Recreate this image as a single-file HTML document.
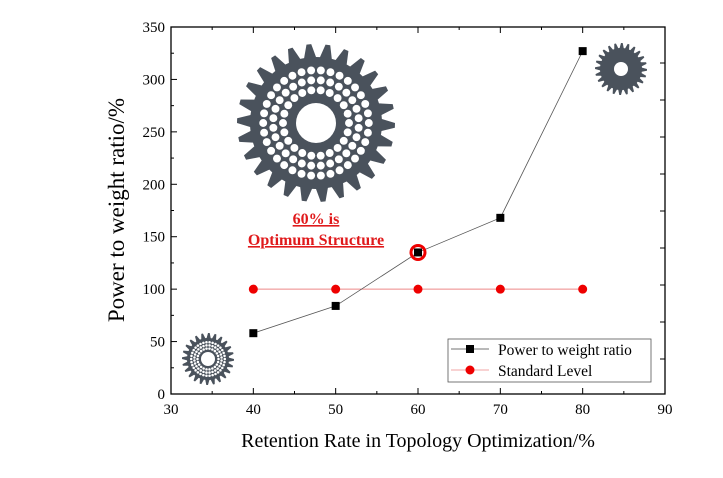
<!DOCTYPE html>
<html><head><meta charset="utf-8"><style>
body{margin:0;background:#fff;}
svg text{font-family:"Liberation Serif",serif;}
</style></head><body>
<svg width="723" height="473" viewBox="0 0 723 473" xmlns="http://www.w3.org/2000/svg">
<g id="gears"></g>
<g id="axes"></g>
<g id="marks"></g>
<text x="316" y="224" text-anchor="middle" font-size="16" font-weight="bold" fill="#e0191b" text-decoration="underline">60% is</text>
<text x="316" y="245" text-anchor="middle" font-size="16" font-weight="bold" fill="#e0191b" text-decoration="underline">Optimum Structure</text>
<text x="418" y="447" text-anchor="middle" font-size="20" fill="#000">Retention Rate in Topology Optimization/%</text>
<text transform="translate(124,210) rotate(-90)" text-anchor="middle" font-size="23" fill="#000">Power to weight ratio/%</text>
<g>
<rect x="448" y="339" width="203" height="43" fill="#fff" stroke="#555" stroke-width="0.8"/>
<line x1="451" y1="349" x2="489" y2="349" stroke="#444" stroke-width="0.8"/>
<rect x="466" y="345" width="8" height="8" fill="#000"/>
<text x="498" y="355" font-size="15.5">Power to weight ratio</text>
<line x1="451" y1="370" x2="489" y2="370" stroke="#e88" stroke-width="0.8"/>
<circle cx="470" cy="370" r="4.5" fill="#e00"/>
<text x="498" y="376" font-size="15.5">Standard Level</text>
</g>
</svg>
<script>
const xCats=[40,50,60,70,80];
const ratioVals=[58,84,135,168,327];
const stdVals=[100,100,100,100,100];
const xTicks=[30,40,50,60,70,80,90];
const yTicks=[0,50,100,150,200,250,300,350];
const NS="http://www.w3.org/2000/svg";
const L=171,R=665,T=27,B=394;
const xs=v=>L+(v-30)/60*(R-L);
const ys=v=>B-v/350*(B-T);
function mk(tag,attrs,parent){const e=document.createElementNS(NS,tag);for(const k in attrs)e.setAttribute(k,attrs[k]);parent.appendChild(e);return e;}
const ax=document.getElementById('axes');
const box=mk('rect',{x:L,y:T,width:R-L,height:B-T,fill:'none',stroke:'#000','stroke-width':1.3},ax);


xTicks.forEach(t=>{
 mk('line',{x1:xs(t),y1:B,x2:xs(t),y2:B-6,stroke:'#000'},ax);
 mk('line',{x1:xs(t),y1:T,x2:xs(t),y2:T+6,stroke:'#000'},ax);
 const tx=mk('text',{x:xs(t),y:B+20,'text-anchor':'middle','font-size':15},ax);tx.textContent=t;
 
 
});
for(let t=35;t<90;t+=10){mk('line',{x1:xs(t),y1:B,x2:xs(t),y2:B-3,stroke:'#000'},ax);mk('line',{x1:xs(t),y1:T,x2:xs(t),y2:T+3,stroke:'#000'},ax);}
yTicks.forEach(t=>{
 mk('line',{x1:L,y1:ys(t),x2:L+6,y2:ys(t),stroke:'#000'},ax);
 const tx=mk('text',{x:L-6,y:ys(t)+5,'text-anchor':'end','font-size':15},ax);tx.textContent=t;
 
 
});
for(let t=25;t<350;t+=50)mk('line',{x1:L,y1:ys(t),x2:L+3,y2:ys(t),stroke:'#000'},ax);
for(let y=63;y<390;y+=37)mk('line',{x1:R,y1:y,x2:R-5,y2:y,stroke:'#000'},ax);
const mg=document.getElementById('marks');
const sl=mk('polyline',{points:xCats.map((c,i)=>xs(c)+','+ys(stdVals[i])).join(' '),fill:'none',stroke:'#e88','stroke-width':1},mg);


const rl=mk('polyline',{points:xCats.map((c,i)=>xs(c)+','+ys(ratioVals[i])).join(' '),fill:'none',stroke:'#555','stroke-width':0.8},mg);


xCats.forEach((c,i)=>{
 const p=mk('circle',{cx:xs(c),cy:ys(stdVals[i]),r:4.5,fill:'#e00'},mg);
 
 
});
xCats.forEach((c,i)=>{
 if(c===60){const h=mk('circle',{cx:xs(c),cy:ys(ratioVals[i]),r:7,fill:'none',stroke:'#e00','stroke-width':3},mg);
 
 }
 const p=mk('rect',{x:xs(c)-4,y:ys(ratioVals[i])-4,width:8,height:8,fill:'#000'},mg);
 
 
});
function gear(cx,cy,ro,ri,teeth,hole,name,lattice){
 const g=document.getElementById('gears');
 let d='';const n=teeth*4;
 for(let k=0;k<n;k++){const a=k/n*2*Math.PI;const r=(k%4<2)?ro:ri;d+=(k?'L':'M')+(cx+r*Math.cos(a))+','+(cy+r*Math.sin(a));}
 d+='Z';
 const p=mk('path',{d:d,fill:'#4a525c'},g);
 
 
 if(lattice){for(let ring=0;ring<3;ring++){const rr=ri*(0.5+ring*0.15);const cnt=22+ring*6;for(let k=0;k<cnt;k++){const a=(k+ring*0.5)/cnt*2*Math.PI;mk('circle',{cx:cx+rr*Math.cos(a),cy:cy+rr*Math.sin(a),r:ri*0.06,fill:'#fff'},g);}}}
 mk('circle',{cx:cx,cy:cy,r:hole,fill:'#fff'},g);
}
gear(316,123,79,66,26,20,'gear-60-percent',true);
gear(621,69,26,21,24,7,'gear-80-percent',false);
gear(208,359,26,21,24,7,'gear-40-percent',true);
</script>
</body></html>
